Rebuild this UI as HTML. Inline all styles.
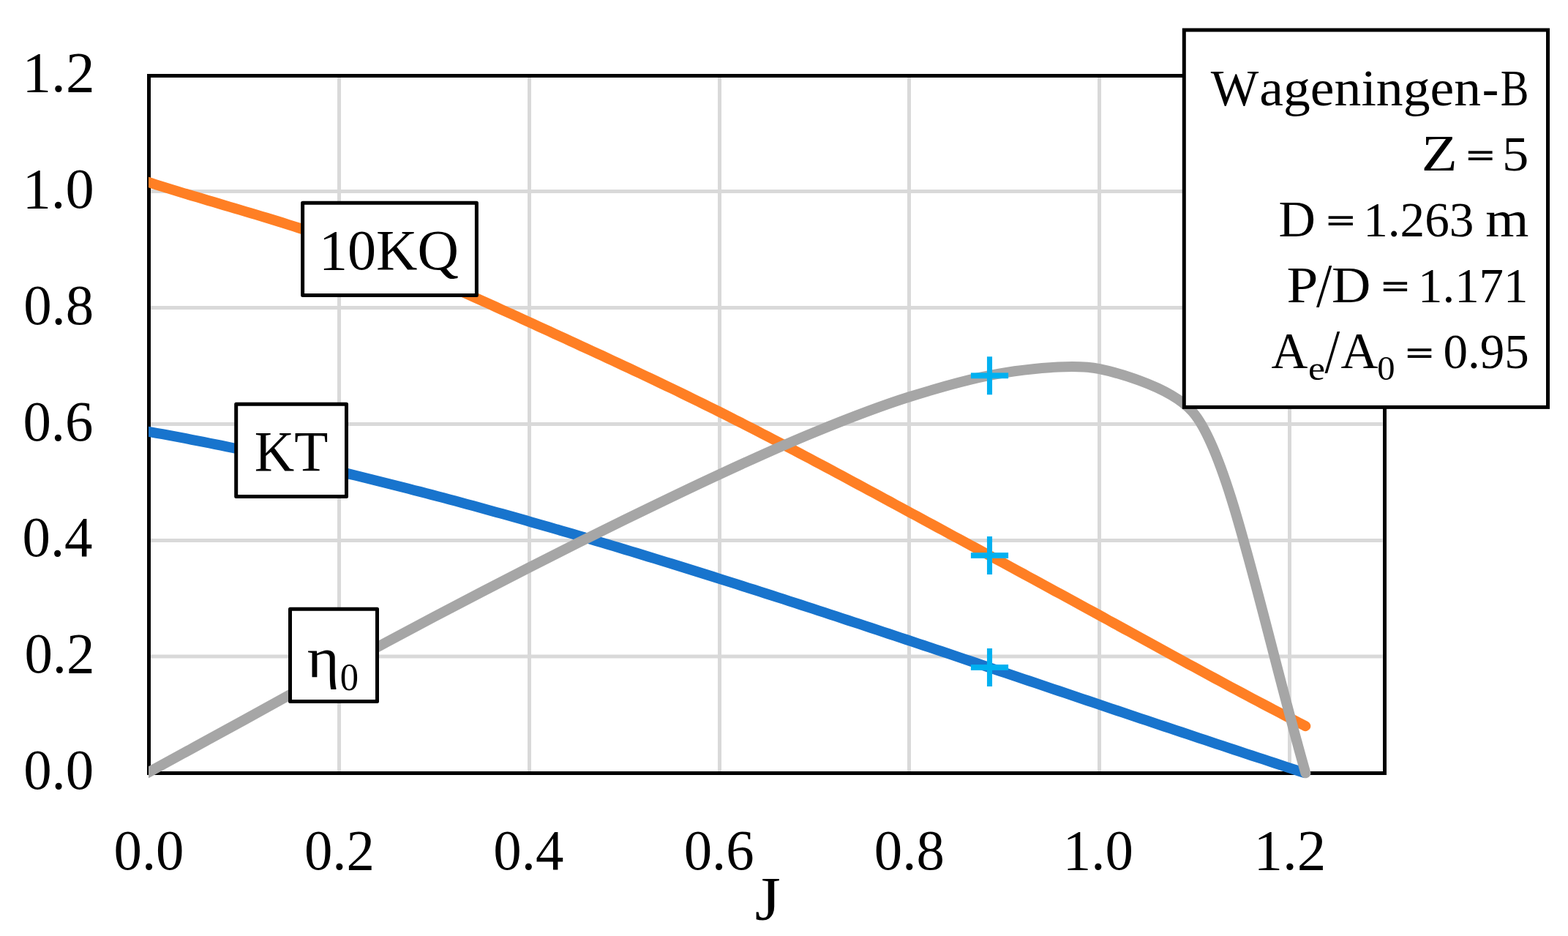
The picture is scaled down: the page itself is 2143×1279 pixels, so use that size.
<!DOCTYPE html>
<html lang="en">
<head>
<meta charset="utf-8">
<title>Wageningen-B open water diagram</title>
<style>
html,body{margin:0;padding:0;background:#fff;}
body{width:2143px;height:1279px;overflow:hidden;}
svg{display:block;}
text{font-family:"Liberation Serif",serif;fill:#000;white-space:pre;}
</style>
</head>
<body>
<svg width="2143" height="1279" viewBox="0 0 2143 1279">
<defs><clipPath id="plot"><rect x="203" y="90" width="1700" height="990"/></clipPath></defs>
<rect width="2143" height="1279" fill="#fff"/>
<g id="grid" stroke="#d9d9d9" stroke-width="5" fill="none"><line x1="463.50" y1="106" x2="463.50" y2="1054"/><line x1="723.50" y1="106" x2="723.50" y2="1054"/><line x1="983.50" y1="106" x2="983.50" y2="1054"/><line x1="1242.50" y1="106" x2="1242.50" y2="1054"/><line x1="1502.50" y1="106" x2="1502.50" y2="1054"/><line x1="1762.50" y1="106" x2="1762.50" y2="1054"/><line x1="206" y1="897.00" x2="1889.5" y2="897.00"/><line x1="206" y1="738.50" x2="1889.5" y2="738.50"/><line x1="206" y1="579.50" x2="1889.5" y2="579.50"/><line x1="206" y1="420.50" x2="1889.5" y2="420.50"/><line x1="206" y1="261.50" x2="1889.5" y2="261.50"/></g>
<rect id="frame" x="203.5" y="103.5" width="1689" height="953" fill="none" stroke="#000" stroke-width="5"/>
<g id="curves" clip-path="url(#plot)" fill="none" stroke-width="14" stroke-linecap="round" stroke-linejoin="round">
<path stroke="#1874cd" d="M190.0,587.5 L198.0,588.9 L206.0,590.3 L214.0,591.8 L222.0,593.2 L230.0,594.7 L238.0,596.2 L246.0,597.7 L254.0,599.2 L262.0,600.8 L270.1,602.3 L278.1,603.9 L286.1,605.5 L294.1,607.1 L302.1,608.7 L310.1,610.3 L318.1,612.0 L326.1,613.6 L334.1,615.3 L342.1,617.0 L350.1,618.7 L358.1,620.4 L366.1,622.1 L374.1,623.9 L382.1,625.6 L390.1,627.4 L398.1,629.2 L406.1,631.0 L414.1,632.8 L422.1,634.7 L430.2,636.5 L438.2,638.4 L446.2,640.2 L454.2,642.1 L462.2,644.0 L470.2,645.9 L478.2,647.9 L486.2,649.8 L494.2,651.8 L502.2,653.7 L510.2,655.7 L518.2,657.7 L526.2,659.7 L534.2,661.7 L542.2,663.7 L550.2,665.8 L558.2,667.8 L566.2,669.9 L574.2,671.9 L582.2,674.0 L590.3,676.1 L598.3,678.2 L606.3,680.3 L614.3,682.5 L622.3,684.6 L630.3,686.8 L638.3,688.9 L646.3,691.1 L654.3,693.3 L662.3,695.5 L670.3,697.7 L678.3,699.9 L686.3,702.1 L694.3,704.3 L702.3,706.6 L710.3,708.8 L718.3,711.1 L726.3,713.4 L734.3,715.7 L742.3,717.9 L750.4,720.2 L758.4,722.6 L766.4,724.9 L774.4,727.2 L782.4,729.5 L790.4,731.9 L798.4,734.2 L806.4,736.6 L814.4,739.0 L822.4,741.4 L830.4,743.7 L838.4,746.1 L846.4,748.5 L854.4,751.0 L862.4,753.4 L870.4,755.8 L878.4,758.2 L886.4,760.7 L894.4,763.1 L902.4,765.6 L910.5,768.1 L918.5,770.5 L926.5,773.0 L934.5,775.5 L942.5,778.0 L950.5,780.5 L958.5,783.0 L966.5,785.5 L974.5,788.0 L982.5,790.6 L990.5,793.1 L998.5,795.6 L1006.5,798.2 L1014.5,800.7 L1022.5,803.3 L1030.5,805.8 L1038.5,808.4 L1046.5,811.0 L1054.5,813.5 L1062.5,816.1 L1070.6,818.7 L1078.6,821.3 L1086.6,823.9 L1094.6,826.5 L1102.6,829.1 L1110.6,831.7 L1118.6,834.3 L1126.6,836.9 L1134.6,839.6 L1142.6,842.2 L1150.6,844.8 L1158.6,847.5 L1166.6,850.1 L1174.6,852.7 L1182.6,855.4 L1190.6,858.0 L1198.6,860.7 L1206.6,863.3 L1214.6,866.0 L1222.6,868.7 L1230.7,871.3 L1238.7,874.0 L1246.7,876.7 L1254.7,879.3 L1262.7,882.0 L1270.7,884.7 L1278.7,887.4 L1286.7,890.0 L1294.7,892.7 L1302.7,895.4 L1310.7,898.1 L1318.7,900.8 L1326.7,903.5 L1334.7,906.2 L1342.7,908.9 L1350.7,911.6 L1358.7,914.3 L1366.7,917.0 L1374.7,919.7 L1382.7,922.4 L1390.8,925.1 L1398.8,927.8 L1406.8,930.5 L1414.8,933.2 L1422.8,935.9 L1430.8,938.6 L1438.8,941.3 L1446.8,944.0 L1454.8,946.7 L1462.8,949.4 L1470.8,952.1 L1478.8,954.8 L1486.8,957.5 L1494.8,960.2 L1502.8,962.9 L1510.8,965.6 L1518.8,968.3 L1526.8,971.0 L1534.8,973.7 L1542.8,976.4 L1550.9,979.1 L1558.9,981.8 L1566.9,984.4 L1574.9,987.1 L1582.9,989.8 L1590.9,992.5 L1598.9,995.2 L1606.9,997.9 L1614.9,1000.5 L1622.9,1003.2 L1630.9,1005.9 L1638.9,1008.6 L1646.9,1011.2 L1654.9,1013.9 L1662.9,1016.6 L1670.9,1019.2 L1678.9,1021.9 L1686.9,1024.5 L1694.9,1027.2 L1702.9,1029.8 L1711.0,1032.5 L1719.0,1035.1 L1727.0,1037.7 L1735.0,1040.4 L1743.0,1043.0 L1751.0,1045.6 L1759.0,1048.3 L1767.0,1050.9 L1775.0,1053.5 L1783.0,1056.1"/>
<path stroke="#ff7f24" d="M190.0,244.8 L197.3,247.2 L204.6,249.5 L211.8,251.8 L219.1,254.1 L226.4,256.4 L233.7,258.6 L241.0,260.9 L248.2,263.1 L255.5,265.3 L262.8,267.5 L270.1,269.6 L277.4,271.8 L284.6,274.0 L291.9,276.1 L299.2,278.3 L306.5,280.4 L313.8,282.6 L321.0,284.7 L328.3,286.9 L335.6,289.1 L342.9,291.2 L350.2,293.4 L357.4,295.6 L364.7,297.8 L372.0,300.0 L379.3,302.3 L386.6,304.5 L393.8,306.8 L401.1,309.1 L408.4,311.5 L415.7,313.8 L423.0,316.2 L430.2,318.6 L437.5,321.1 L444.8,323.5 L452.1,326.1 L459.4,328.6 L466.6,331.2 L473.9,333.9 L481.2,336.5 L488.5,339.2 L495.8,342.0 L503.0,344.8 L510.3,347.6 L517.6,350.5 L524.9,353.4 L532.2,356.3 L539.4,359.2 L546.7,362.2 L554.0,365.2 L561.3,368.2 L568.6,371.3 L575.8,374.4 L583.1,377.5 L590.4,380.6 L597.7,383.8 L605.0,386.9 L612.2,390.1 L619.5,393.3 L626.8,396.6 L634.1,399.8 L641.4,403.0 L648.6,406.3 L655.9,409.6 L663.2,412.9 L670.5,416.2 L677.8,419.5 L685.0,422.8 L692.3,426.1 L699.6,429.4 L706.9,432.7 L714.2,436.1 L721.4,439.4 L728.7,442.7 L736.0,446.1 L743.3,449.4 L750.6,452.7 L757.8,456.1 L765.1,459.4 L772.4,462.7 L779.7,466.1 L787.0,469.4 L794.2,472.8 L801.5,476.1 L808.8,479.5 L816.1,482.8 L823.4,486.2 L830.6,489.6 L837.9,493.0 L845.2,496.4 L852.5,499.8 L859.8,503.2 L867.0,506.6 L874.3,510.0 L881.6,513.5 L888.9,516.9 L896.2,520.4 L903.4,523.9 L910.7,527.3 L918.0,530.8 L925.3,534.3 L932.6,537.9 L939.8,541.4 L947.1,545.0 L954.4,548.5 L961.7,552.1 L969.0,555.7 L976.2,559.3 L983.5,562.9 L990.8,566.6 L998.1,570.3 L1005.3,573.9 L1012.6,577.6 L1019.9,581.4 L1027.2,585.1 L1034.5,588.8 L1041.7,592.6 L1049.0,596.3 L1056.3,600.1 L1063.6,603.9 L1070.9,607.7 L1078.1,611.5 L1085.4,615.4 L1092.7,619.2 L1100.0,623.1 L1107.3,626.9 L1114.5,630.8 L1121.8,634.7 L1129.1,638.5 L1136.4,642.4 L1143.7,646.3 L1150.9,650.2 L1158.2,654.1 L1165.5,658.1 L1172.8,662.0 L1180.1,665.9 L1187.3,669.8 L1194.6,673.7 L1201.9,677.7 L1209.2,681.6 L1216.5,685.5 L1223.7,689.5 L1231.0,693.4 L1238.3,697.4 L1245.6,701.3 L1252.9,705.2 L1260.1,709.2 L1267.4,713.1 L1274.7,717.0 L1282.0,721.0 L1289.3,724.9 L1296.5,728.9 L1303.8,732.8 L1311.1,736.7 L1318.4,740.7 L1325.7,744.6 L1332.9,748.5 L1340.2,752.5 L1347.5,756.4 L1354.8,760.4 L1362.1,764.3 L1369.3,768.2 L1376.6,772.2 L1383.9,776.1 L1391.2,780.1 L1398.5,784.0 L1405.7,788.0 L1413.0,791.9 L1420.3,795.9 L1427.6,799.8 L1434.9,803.8 L1442.1,807.8 L1449.4,811.7 L1456.7,815.7 L1464.0,819.6 L1471.3,823.6 L1478.5,827.6 L1485.8,831.6 L1493.1,835.5 L1500.4,839.5 L1507.7,843.5 L1514.9,847.5 L1522.2,851.5 L1529.5,855.5 L1536.8,859.5 L1544.1,863.4 L1551.3,867.4 L1558.6,871.4 L1565.9,875.4 L1573.2,879.4 L1580.5,883.4 L1587.7,887.4 L1595.0,891.4 L1602.3,895.3 L1609.6,899.3 L1616.9,903.3 L1624.1,907.3 L1631.4,911.2 L1638.7,915.2 L1646.0,919.1 L1653.3,923.1 L1660.5,927.0 L1667.8,930.9 L1675.1,934.8 L1682.4,938.8 L1689.7,942.7 L1696.9,946.5 L1704.2,950.4 L1711.5,954.3 L1718.8,958.1 L1726.1,962.0 L1733.3,965.8 L1740.6,969.6 L1747.9,973.4 L1755.2,977.2 L1762.5,981.0 L1769.7,984.8 L1777.0,988.5 L1784.3,992.2"/>
<path stroke="#a6a6a6" d="M190.3,1062.2 L203.5,1055.0 C242.2,1033.8 294.7,1005.2 333.4,984.0 C372.2,962.7 424.4,933.7 463.3,912.6 C501.9,891.6 554.3,863.5 593.3,842.9 C631.8,822.6 684.2,795.4 723.2,775.5 C761.7,755.9 814.1,729.6 853.1,710.5 C891.6,691.7 943.8,666.4 983.0,648.3 C1021.3,630.6 1073.4,606.8 1113.0,590.7 C1150.9,575.2 1203.0,554.8 1242.9,542.3 C1280.5,530.5 1333.1,515.2 1372.8,509.3 C1410.5,503.8 1467.0,496.8 1502.7,504.2 C1511.9,506.1 1596.7,524.9 1630.1,563.0 C1680.5,620.4 1724.9,848.2 1784.4,1056.3"/>
</g>
<g id="markers" fill="#00b0f0"><rect x="1326.9" y="908.1" width="51.2" height="7.8"/><rect x="1348.95" y="886.0" width="7.1" height="52"/><rect x="1326.9" y="755.1" width="51.2" height="7.8"/><rect x="1348.95" y="733.0" width="7.1" height="52"/><rect x="1326.9" y="509.4" width="51.2" height="7.8"/><rect x="1348.95" y="487.3" width="7.1" height="52"/></g>
<g id="ticks">
<text y="1078.1" font-size="79"><tspan x="32.18" textLength="96.03" lengthAdjust="spacingAndGlyphs">0.0</tspan></text>
<text y="919.3" font-size="79"><tspan x="33.40" textLength="96.03" lengthAdjust="spacingAndGlyphs">0.2</tspan></text>
<text y="760.4" font-size="79"><tspan x="30.48" textLength="96.03" lengthAdjust="spacingAndGlyphs">0.4</tspan></text>
<text y="601.6" font-size="79"><tspan x="31.45" textLength="96.03" lengthAdjust="spacingAndGlyphs">0.6</tspan></text>
<text y="442.8" font-size="79"><tspan x="32.18" textLength="96.03" lengthAdjust="spacingAndGlyphs">0.8</tspan></text>
<text y="283.9" font-size="79"><tspan x="30.66" textLength="97.92" lengthAdjust="spacingAndGlyphs">1.0</tspan></text>
<text y="125.1" font-size="79"><tspan x="30.59" textLength="98.86" lengthAdjust="spacingAndGlyphs">1.2</tspan></text>
<text y="1188.3" font-size="79"><tspan x="155.48" textLength="96.03" lengthAdjust="spacingAndGlyphs">0.0</tspan></text>
<text y="1188.3" font-size="79"><tspan x="415.94" textLength="96.03" lengthAdjust="spacingAndGlyphs">0.2</tspan></text>
<text y="1188.3" font-size="79"><tspan x="674.32" textLength="96.03" lengthAdjust="spacingAndGlyphs">0.4</tspan></text>
<text y="1188.3" font-size="79"><tspan x="934.66" textLength="96.03" lengthAdjust="spacingAndGlyphs">0.6</tspan></text>
<text y="1188.3" font-size="79"><tspan x="1194.87" textLength="96.03" lengthAdjust="spacingAndGlyphs">0.8</tspan></text>
<text y="1188.3" font-size="79"><tspan x="1452.77" textLength="96.03" lengthAdjust="spacingAndGlyphs">1.0</tspan></text>
<text y="1188.3" font-size="79"><tspan x="1713.49" textLength="98.86" lengthAdjust="spacingAndGlyphs">1.2</tspan></text>
</g>
<g id="axis-title"><text y="1256.9" font-size="85"><tspan x="1031.85" textLength="35.00" lengthAdjust="spacingAndGlyphs">J</tspan></text></g>
<g id="labels" stroke-linejoin="round">
<rect x="413.6" y="277.3" width="237.8" height="126.1" fill="#fff" stroke="#000" stroke-width="5"/>
<text y="368.3" font-size="79"><tspan x="435.88" textLength="190.97" lengthAdjust="spacingAndGlyphs">10KQ</tspan></text>
<rect x="322.7" y="552.3" width="150.8" height="126.1" fill="#fff" stroke="#000" stroke-width="5"/>
<text y="643.1" font-size="79"><tspan x="347.85" textLength="100.60" lengthAdjust="spacingAndGlyphs">KT</tspan></text>
<rect x="396.5" y="832.3" width="119" height="126.1" fill="#fff" stroke="#000" stroke-width="5"/>
<text y="924.6" font-size="79"><tspan x="419.67" textLength="44.08" lengthAdjust="spacingAndGlyphs">η</tspan><tspan x="464.75" y="943.4" font-size="52" textLength="25.29" lengthAdjust="spacingAndGlyphs">0</tspan></text>
</g>
<g id="info">
<rect x="1618.3" y="41" width="497.2" height="515.4" fill="#fff" stroke="#000" stroke-width="5"/>
<text y="144.1" font-size="70.4"><tspan x="1654.80" textLength="65.50" lengthAdjust="spacingAndGlyphs">W</tspan><tspan x="1721.28" textLength="302.88" lengthAdjust="spacingAndGlyphs">ageningen</tspan><tspan x="2025.79" textLength="22.57" lengthAdjust="spacingAndGlyphs">-</tspan><tspan x="2050.65" textLength="38.69" lengthAdjust="spacingAndGlyphs">B</tspan></text>
<text y="233.3" font-size="70.4"><tspan x="1942.89" textLength="49.09" lengthAdjust="spacingAndGlyphs">Z</tspan> <tspan x="2004.51" y="227.7" font-size="45.4" stroke="#000" stroke-width="1.3" textLength="37.45" lengthAdjust="spacingAndGlyphs">=</tspan> <tspan x="2053.13" y="233.3" font-size="68" textLength="36.31" lengthAdjust="spacingAndGlyphs">5</tspan></text>
<text y="322.8" font-size="70.4"><tspan x="1747.52" textLength="50.40" lengthAdjust="spacingAndGlyphs">D</tspan> <tspan x="1813.17" y="317.2" font-size="45.4" stroke="#000" stroke-width="1.3" textLength="38.02" lengthAdjust="spacingAndGlyphs">=</tspan> <tspan x="1863.17" y="322.8" font-size="68" textLength="151.25" lengthAdjust="spacingAndGlyphs">1.263</tspan> <tspan x="2030.38" textLength="59.22" lengthAdjust="spacingAndGlyphs">m</tspan></text>
<text y="413.0" font-size="70.4"><tspan x="1758.51" textLength="42.87" lengthAdjust="spacingAndGlyphs">P</tspan><tspan x="1798.90" y="419.0" font-size="84.6" textLength="21.31" lengthAdjust="spacingAndGlyphs">/</tspan><tspan x="1820.00" y="413.0" textLength="53.39" lengthAdjust="spacingAndGlyphs">D</tspan> <tspan x="1888.64" y="407.4" font-size="45.4" stroke="#000" stroke-width="1.3" textLength="36.88" lengthAdjust="spacingAndGlyphs">=</tspan> <tspan x="1938.00" y="413.0" font-size="68" textLength="150.43" lengthAdjust="spacingAndGlyphs">1.171</tspan></text>
<text y="503.3" font-size="70.4"><tspan x="1737.46" textLength="49.92" lengthAdjust="spacingAndGlyphs">A</tspan><tspan x="1787.92" y="518.8" font-size="46" textLength="23.06" lengthAdjust="spacingAndGlyphs">e</tspan><tspan x="1810.60" y="509.3" font-size="84.6" textLength="20.71" lengthAdjust="spacingAndGlyphs">/</tspan><tspan x="1832.55" y="503.3" textLength="50.95" lengthAdjust="spacingAndGlyphs">A</tspan><tspan x="1882.15" y="518.8" font-size="46" textLength="24.30" lengthAdjust="spacingAndGlyphs">0</tspan> <tspan x="1921.53" y="497.7" font-size="45.4" stroke="#000" stroke-width="1.3" textLength="37.11" lengthAdjust="spacingAndGlyphs">=</tspan> <tspan x="1972.44" y="503.3" font-size="68" textLength="117.27" lengthAdjust="spacingAndGlyphs">0.95</tspan></text>
</g>
</svg>
</body>
</html>
